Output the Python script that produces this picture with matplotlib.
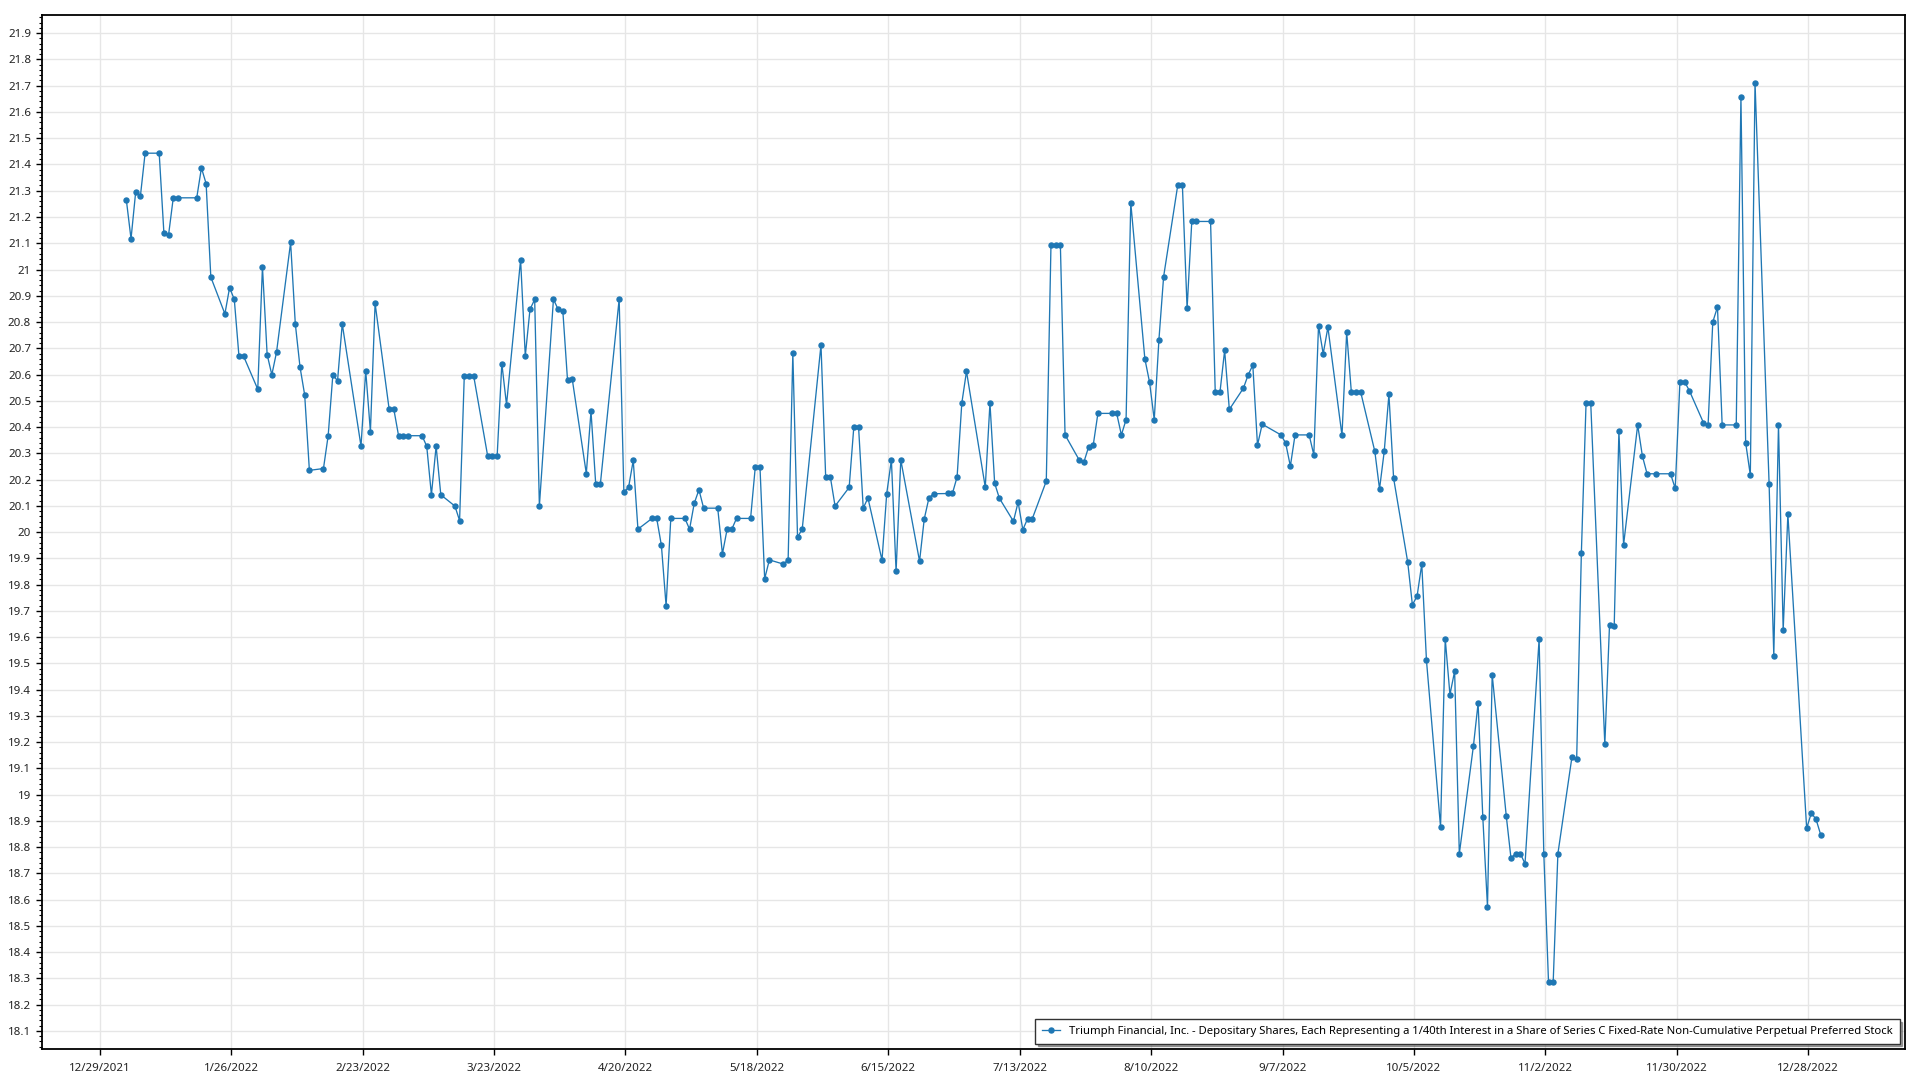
import numpy as np
import pandas as pd
import matplotlib
matplotlib.use("Agg")
import matplotlib.pyplot as plt
import matplotlib.dates as mdates
from matplotlib.ticker import MultipleLocator, AutoMinorLocator, FuncFormatter

plt.rcParams['font.family'] = ['Noto Sans', 'DejaVu Sans']

# market holidays 2022 (no trading)
holidays = ['2022-01-17', '2022-02-21', '2022-04-15', '2022-05-30', '2022-06-20',
            '2022-07-04', '2022-09-05', '2022-11-24', '2022-12-26']

# closing prices by month
jan = [21.265, 21.117, 21.297, 21.28, 21.443, 21.443, 21.14, 21.132, 21.273, 21.273,
       21.273, 21.387, 21.327, 20.971, 20.831, 20.931, 20.886, 20.669, 20.669, 20.544]
feb = [21.010, 20.676, 20.599, 20.685, 21.103, 20.793, 20.629, 20.522, 20.235, 20.242,
       20.367, 20.599, 20.576, 20.793, 20.327, 20.615, 20.382, 20.871, 20.467]
mar = [20.467, 20.367, 20.367, 20.367, 20.367, 20.327, 20.142, 20.327, 20.142, 20.099,
       20.044, 20.595, 20.595, 20.595, 20.288, 20.288, 20.288, 20.642, 20.485, 21.037,
       20.671, 20.848, 20.886]
apr = [20.099, 20.887, 20.848, 20.842, 20.578, 20.583, 20.223, 20.46, 20.184, 20.184,
       20.887, 20.153, 20.17, 20.273, 20.011, 20.052, 20.052, 19.949, 19.719, 20.052]
may = [20.052, 20.011, 20.11, 20.161, 20.091, 20.091, 19.917, 20.011, 20.011, 20.052,
       20.052, 20.248, 20.248, 19.822, 19.894, 19.878, 19.894, 20.681, 19.981, 20.011,
       20.713]
jun = [20.209, 20.209, 20.099, 20.17, 20.402, 20.402, 20.091, 20.13, 19.893, 20.146,
       20.275, 19.85, 20.275, 19.889, 20.05, 20.13, 20.146, 20.147, 20.147, 20.210,
       20.491]
jul = [20.612, 20.171, 20.491, 20.186, 20.129, 20.041, 20.114, 20.009, 20.05, 20.05,
       20.194, 21.094, 21.094, 21.094, 20.370, 20.275, 20.266, 20.323, 20.331, 20.452]
aug = [20.452, 20.452, 20.370, 20.428, 21.254, 20.66, 20.571, 20.428, 20.733, 20.973,
       21.32, 21.32, 20.852, 21.183, 21.183, 21.183, 20.532, 20.532, 20.692, 20.467,
       20.548, 20.598, 20.636]
sep = [20.331, 20.411, 20.370, 20.339, 20.251, 20.370, 20.370, 20.294, 20.786, 20.679,
       20.78, 20.368, 20.761, 20.532, 20.532, 20.532, 20.307, 20.164, 20.307, 20.524,
       20.205]
oct_ = [19.886, 19.723, 19.756, 19.878, 19.511, 18.877, 19.593, 19.381, 19.470, 18.775,
        19.185, 19.348, 18.915, 18.573, 19.457, 18.919, 18.759, 18.775, 18.775, 18.737,
        19.593]
nov = [18.775, 18.287, 18.287, 18.775, 19.144, 19.134, 19.919, 20.491, 20.491, 19.191,
       19.647, 19.643, 20.384, 19.952, 20.408, 20.290, 20.222, 20.222, 20.222, 20.166,
       20.572]
dec = [20.572, 20.539, 20.417, 20.408, 20.80, 20.857, 20.408, 20.408, 21.658, 20.341,
       20.217, 21.712, 20.184, 19.529, 20.408, 19.627, 20.068, 18.872, 18.930, 18.906,
       18.847]

tick_dates = pd.date_range('2021-12-29', '2022-12-28', freq='28D')
series_name = ("Triumph Financial, Inc. - Depositary Shares, Each Representing a 1/40th "
               "Interest in a Share of Series C Fixed-Rate Non-Cumulative Perpetual Preferred Stock")

prices = jan + feb + mar + apr + may + jun + jul + aug + sep + oct_ + nov + dec
dates = pd.bdate_range('2022-01-03', '2022-12-30', freq='C', holidays=holidays)
dates = dates + pd.Timedelta(hours=16)   # market close

fig = plt.figure(figsize=(19.2, 10.8), dpi=100)
ax = fig.add_axes([0.0220, 0.0284, 0.9703, 0.9574])

ax.plot(dates, prices, color='#1f77b4', lw=0.95, marker='o', ms=3.6,
        label=series_name, zorder=3)

ax.set_ylim(18.03, 21.968)
ax.set_xlim(pd.Timestamp('2021-12-16 18:00'), pd.Timestamp('2023-01-17 16:00'))

ax.yaxis.set_major_locator(MultipleLocator(0.1))
ax.yaxis.set_minor_locator(AutoMinorLocator(5))
ax.yaxis.set_major_formatter(FuncFormatter(lambda v, p: f"{round(v, 1):g}"))

ax.set_xticks(tick_dates)
ax.xaxis.set_major_formatter(FuncFormatter(
    lambda v, p: (lambda d: f"{d.month}/{d.day}/{d.year}")(mdates.num2date(v))))

ax.grid(True, which='major', color='#e6e6e6', lw=1.0, zorder=0)
ax.set_axisbelow(True)

for s in ax.spines.values():
    s.set_color('black')
    s.set_linewidth(1.3)

ax.tick_params(axis='both', which='major', labelsize=8.3, labelcolor='#222222',
               length=4, width=1, color='black')
ax.tick_params(axis='y', which='minor', length=2, width=0.8, color='black')
ax.tick_params(axis='x', which='major', pad=6)
ax.tick_params(axis='y', which='major', pad=4)

leg = ax.legend(loc='lower right', fontsize=8.1, frameon=True, fancybox=False,
                shadow=True, handlelength=1.6, borderaxespad=0.5,
                borderpad=0.6)
leg.get_frame().set_edgecolor('#333333')
leg.get_frame().set_linewidth(1.0)

fig.savefig('out.png', dpi=100)
